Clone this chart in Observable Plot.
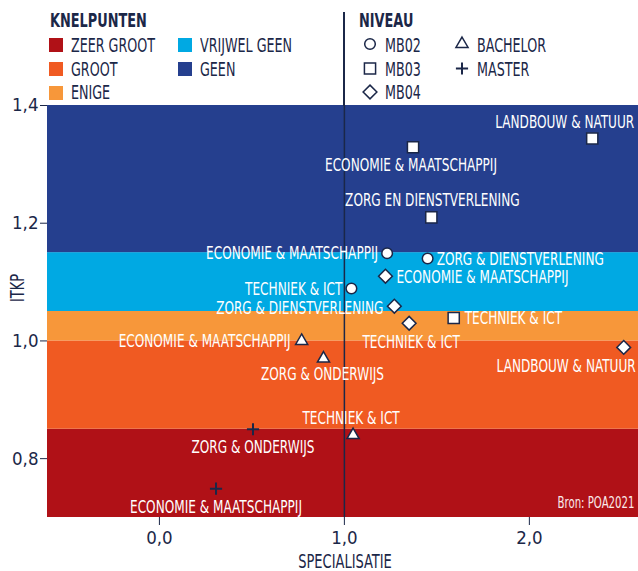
<!DOCTYPE html>
<html><head><meta charset="utf-8">
<script src="https://cdn.jsdelivr.net/npm/d3@7"></script>
<script src="https://cdn.jsdelivr.net/npm/@observablehq/plot@0.6"></script>
<style>
body{margin:0;background:#fff;}
#wrap{position:relative;width:638px;height:571px;overflow:hidden;font-family:"Liberation Sans Narrow","DejaVu Sans Condensed",sans-serif;color:#1b2748;}
#wrap svg{position:absolute;left:0;top:0;}
.t{position:absolute;white-space:nowrap;line-height:18px;font-size:19.5px;}
.c{display:inline-block;transform-origin:0 0;}
.b{font-weight:bold;}
.sw{position:absolute;width:14px;height:14px;}
</style></head><body><div id="wrap"></div>
<script>
// ---- data ----
const bandNames  = ["ZEER GROOT","GROOT","ENIGE","VRIJWEL GEEN","GEEN"];
const bandColors = ["#b01117","#f05a22","#f7973a","#00a9e3","#253f8e"];
const bandLow    = [0.70, 0.85, 1.00, 1.05, 1.15];
const bandHigh   = [0.85, 1.00, 1.05, 1.15, 1.40];

const niveau = ["MB03","MB03","MB03","MB02","MB02","MB04","MB02","MB04","MB04","MB03","MB04",
                "BACHELOR","BACHELOR","BACHELOR","MASTER","MASTER"];
const sector = ["LANDBOUW & NATUUR","ECONOMIE & MAATSCHAPPIJ","ZORG EN DIENSTVERLENING",
                "ECONOMIE & MAATSCHAPPIJ","ZORG & DIENSTVERLENING","ECONOMIE & MAATSCHAPPIJ",
                "TECHNIEK & ICT","ZORG & DIENSTVERLENING","TECHNIEK & ICT","TECHNIEK & ICT",
                "LANDBOUW & NATUUR","ECONOMIE & MAATSCHAPPIJ","ZORG & ONDERWIJS","TECHNIEK & ICT",
                "ZORG & ONDERWIJS","ECONOMIE & MAATSCHAPPIJ"];
const specialisatie = [2.34,1.371,1.47,1.231,1.45,1.222,1.038,1.27,1.35,1.591,2.51,0.769,0.887,1.047,0.506,0.306];
const itkp          = [1.344,1.329,1.21,1.149,1.14,1.11,1.089,1.059,1.03,1.039,0.989,1.0,0.970,0.840,0.850,0.749];

const xTicks = [0, 1, 2];
const yTicks = [0.8, 1.0, 1.2, 1.4];
const niveauLegend = ["MB02","MB03","MB04","BACHELOR","MASTER"];
const bron = "Bron: POA2021";

// ---- layout (label placement: anchor, dx, dy in px) ----
const labelPlacement = [
  ["end",42,-16],["middle",-2,18],["middle",1,-17],["end",-9,0],["start",9,0.5],
  ["start",11,1.5],["end",-9,0.5],["end",-11,2],["middle",2,19.5],["start",11,0],
  ["end",12,19],["end",-11,0.5],["middle",-1,15.5],["middle",-2,-16.5],["middle",0,18],["middle",0,18.5]
];
const navy = "#1b2748";
const symbolStyle = {
  MB02:{symbol:"circle",r:5.3,fill:"white",strokeWidth:1.5},
  MB03:{symbol:"square",r:6.3,fill:"white",strokeWidth:1.5},
  MB04:{symbol:"diamond2",r:6.2,fill:"white",strokeWidth:1.5},
  BACHELOR:{symbol:"triangle",r:4.5,fill:"white",strokeWidth:1.5},
  MASTER:{symbol:"plus",r:4,fill:"none",strokeWidth:2}
};

const rows = sector.map((s,i)=>({sector:s, niveau:niveau[i], x:specialisatie[i], y:itkp[i]}));
const bands = bandNames.map((n,i)=>({name:n, lo:bandLow[i], hi:bandHigh[i], color:bandColors[i]}));
const fmt = d => d.toFixed(1).replace(".", ",");
const FONT = '"Liberation Sans Narrow","DejaVu Sans Condensed",sans-serif';

const chart = Plot.plot({
  width: 638, height: 571,
  marginLeft: 47, marginRight: 0, marginTop: 105, marginBottom: 54,
  x: {domain: [-0.605, 2.59]},
  y: {domain: [0.7, 1.4]},
  style: {fontFamily: FONT, background: "transparent", overflow: "visible", color: navy},
  marks: [
    Plot.rect(bands, {y1: "lo", y2: "hi", fill: d => d.color}),
    Plot.ruleX([1], {stroke: navy, strokeWidth: 1.5}),
    ...rows.map((d,i) => Plot.text([d], {x: "x", y: "y", text: "sector", textAnchor: labelPlacement[i][0],
        dx: labelPlacement[i][1], dy: labelPlacement[i][2], fill: "white", fontSize: 17.5})),
    ...niveauLegend.map(l => Plot.dot(rows.filter(d => d.niveau === l), {x: "x", y: "y",
        symbol: symbolStyle[l].symbol, r: symbolStyle[l].r, fill: symbolStyle[l].fill,
        stroke: navy, strokeWidth: symbolStyle[l].strokeWidth})),
    Plot.text([bron], {frameAnchor: "bottom-right", dx: -4, dy: -10, fill: "#fbeaea", fontSize: 15.5}),
    Plot.axisX({ticks: xTicks, tickFormat: fmt, tickSize: 8, tickPadding: 5, fontSize: 18.5, label: null, color: navy}),
    Plot.axisY({ticks: yTicks, tickFormat: fmt, tickSize: 7, tickPadding: 2, fontSize: 18.5, label: null, color: navy})
  ],
  color: {type: "identity"}
});

const wrap = document.getElementById("wrap");
wrap.appendChild(chart);

// condense SVG texts to match the reference's condensed face
const allTexts = [...chart.querySelectorAll("text")];
const lblTexts = allTexts.filter(t => sector.includes(t.textContent));
const refLbl = lblTexts.find(t => t.textContent === "ECONOMIE & MAATSCHAPPIJ");
const kLbl = refLbl ? 172 / refLbl.getComputedTextLength() : 0.8;
lblTexts.forEach(t => {
  t.setAttribute("textLength", t.getComputedTextLength() * kLbl);
  t.setAttribute("lengthAdjust", "spacingAndGlyphs");
});
allTexts.filter(t => t.textContent === bron).forEach(t => {
  t.setAttribute("textLength", 77);
  t.setAttribute("lengthAdjust", "spacingAndGlyphs");
});

// ---- legend (HTML overlay) ----
const regSpans = [], boldSpans = [];
function addText(txt, left, baseline, cls) {
  const d = document.createElement("div");
  d.className = "t" + (cls ? " " + cls : "");
  d.style.left = left + "px"; d.style.top = (baseline - 15.5) + "px";
  d.innerHTML = '<span class="c"></span>';
  d.firstChild.textContent = txt;
  wrap.appendChild(d);
  (cls === "b" ? boldSpans : regSpans).push(d.firstChild);
  return d;
}
addText("KNELPUNTEN", 50, 27, "b");
const colX = [49, 178], rowBase = [52, 76, 99.5];
bandNames.forEach((n,i) => {
  const col = i < 3 ? 0 : 1, row = i < 3 ? i : i - 3;
  const s = document.createElement("div");
  s.className = "sw"; s.style.background = bandColors[i];
  s.style.left = colX[col] + "px"; s.style.top = (rowBase[row] - 14) + "px";
  wrap.appendChild(s);
  addText(n, colX[col] + 22, rowBase[row]);
});
const sep = document.createElement("div");
sep.style.cssText = `position:absolute;left:343.2px;top:12px;width:1.5px;height:94px;background:${navy}`;
wrap.appendChild(sep);
addText("NIVEAU", 359, 27, "b");
const legSvg = d3.create("svg").attr("width", 638).attr("height", 110);
const symCenters = [[370,44],[370,68.5],[370,92],[462,44],[462,68.5]];
const symMap = {circle: d3.symbolCircle, square: d3.symbolSquare, diamond2: d3.symbolDiamond2, triangle: d3.symbolTriangle, plus: d3.symbolPlus};
niveauLegend.forEach((l,i) => {
  const st = symbolStyle[l];
  legSvg.append("path")
    .attr("d", d3.symbol(symMap[st.symbol], st.r * st.r * Math.PI)())
    .attr("transform", `translate(${symCenters[i][0]},${symCenters[i][1]})`)
    .attr("fill", st.fill).attr("stroke", navy).attr("stroke-width", st.strokeWidth);
  addText(l, symCenters[i][0] + 15, rowBase[i % 3]);
});
wrap.appendChild(legSvg.node());

// axis titles
const yt = addText("ITKP", 0, 0);
yt.style.cssText += "left:17px;top:288px;transform:translate(-50%,-50%) rotate(-90deg);font-size:20px;";
const xt = addText("SPECIALISATIE", 0, 0);
xt.style.cssText += "left:345px;top:561px;transform:translate(-50%,-50%);font-size:20px;";

// condense HTML texts
const zeer = regSpans.find(s => s.textContent === "ZEER GROOT");
const kReg = 84 / zeer.offsetWidth;
const kn = boldSpans.find(s => s.textContent === "KNELPUNTEN");
const kBold = 97 / kn.offsetWidth;
regSpans.forEach(s => {
  s.style.transform = `scaleX(${kReg})`;
  if (s.parentNode === yt || s.parentNode === xt) s.style.transformOrigin = "50% 50%";
});
boldSpans.forEach(s => s.style.transform = `scaleX(${kBold})`);
</script>
</body></html>
